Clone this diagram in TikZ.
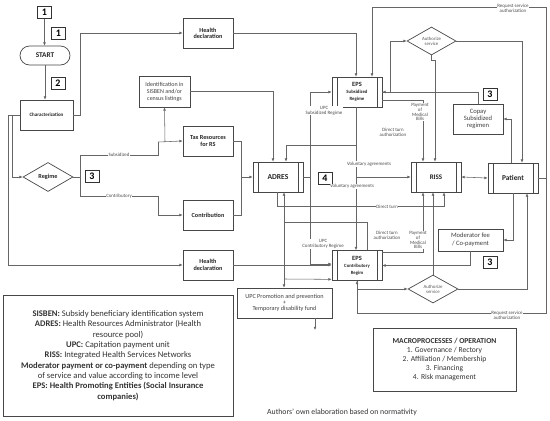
\documentclass[tikz,border=0pt]{standalone}
\usepackage{fontspec}
\setmainfont{Carlito}
\usetikzlibrary{arrows.meta,shapes.geometric,calc}
\newcommand{\fsz}[1]{\fontsize{#1pt}{#1pt}\selectfont}
\begin{document}
\begin{tikzpicture}[x=1pt,y=-1pt,
  lc/.style={draw=black!60, line width=0.55pt},
  ar/.style={lc, -{Latex[length=3.2pt,width=2.8pt]}},
  arb/.style={lc, {Latex[length=3.2pt,width=2.8pt]}-{Latex[length=3.2pt,width=2.8pt]}},
  bx/.style={draw=black!72, line width=0.7pt, fill=white, inner sep=0pt, align=center, text=black!85},
  procbox/.style={bx, path picture={\draw[black!72, line width=0.7pt]
      ([xshift=5pt]path picture bounding box.north west) -- ([xshift=5pt]path picture bounding box.south west)
      ([xshift=-5pt]path picture bounding box.north east) -- ([xshift=-5pt]path picture bounding box.south east);}},
  dia/.style={bx, diamond, minimum width=50pt, minimum height=29pt},
  numbox/.style={draw=black!80, line width=0.8pt, fill=white, minimum width=14pt, minimum height=12pt, inner sep=0pt, font=\bfseries\fsz{10}},
  lbl/.style={font=\fsz{4.9}, text=black!70, inner sep=0.5pt, fill=white, align=center},
  lbln/.style={font=\fsz{4.9}, text=black!70, inner sep=0.5pt, align=center}
]
\useasboundingbox (0,0) rectangle (550,421);
\fill[white] (0,0) rectangle (550,421);

% ---------- nodes ----------
\node[numbox] (n1a) at (44.5,12.5) {1};
\node[numbox] (n1b) at (58.5,33) {1};
\node[bx, rounded corners=9.5pt, minimum width=50pt, minimum height=19pt, font=\bfseries\fsz{7.3}] (start) at (45,55.5) {START};
\node[numbox] (n2) at (58,83) {2};
\node[bx, minimum width=53pt, minimum height=30pt, font=\bfseries\fsz{5}] (char) at (46.5,115) {Characterization};
\node[dia, font=\bfseries\fsz{6.2}] (regime) at (48,177) {Regime};
\node[numbox] (n3a) at (92,176) {3};

\node[bx, minimum width=50pt, minimum height=30pt, font=\bfseries\fsz{6.2}] (hd1) at (208,33) {Health\\declaration};
\node[bx, minimum width=51pt, minimum height=31pt, font=\fsz{6}, text=black!75] (ident) at (164.5,91.5) {Identification in\\[1pt]SISBEN and/or\\[1pt]census listings};
\node[bx, minimum width=50pt, minimum height=30pt, font=\bfseries\fsz{6.2}] (tax) at (208,141) {Tax Resources\\[1pt]for RS};
\node[bx, minimum width=50pt, minimum height=30pt, font=\bfseries\fsz{6.2}] (contrib) at (208,215) {Contribution};
\node[bx, minimum width=50pt, minimum height=30pt, font=\bfseries\fsz{6.2}] (hd2) at (208,265) {Health\\[1pt]declaration};

\node[procbox, minimum width=50pt, minimum height=30pt, font=\bfseries\fsz{7.6}] (adres) at (278,177) {ADRES};
\node[numbox] (n4) at (325,178) {4};
\node[procbox, minimum width=50pt, minimum height=30pt, font=\bfseries\fsz{6.4}] (epss) at (357,92) {EPS\\[1pt]{\fsz{4.8}Subsidized}\\[0.5pt]{\fsz{4.8}Regime}};
\node[procbox, minimum width=50pt, minimum height=30pt, font=\bfseries\fsz{6.4}] (epsc) at (357,265.5) {EPS\\[1pt]{\fsz{4.8}Contributory}\\[0.5pt]{\fsz{4.8}Regim}};
\node[procbox, minimum width=50pt, minimum height=30pt, font=\bfseries\fsz{7}] (riss) at (436,177) {RISS};
\node[procbox, minimum width=50pt, minimum height=30pt, font=\bfseries\fsz{7.4}] (patient) at (513,178) {Patient};

\node[dia, minimum width=49pt, minimum height=28pt, font=\fsz{4.8}, text=black!65] (auth1) at (431.5,41) {Authorize\\service};
\node[dia, minimum width=50pt, minimum height=28pt, font=\fsz{4.8}, text=black!65] (auth2) at (433,289) {Authorize\\service};
\node[bx, minimum width=50pt, minimum height=30pt, font=\fsz{6.6}, text=black!75] (copay) at (478,119) {Copay\\Subsidized\\regimen};
\node[numbox] (n3b) at (490,94) {3};
\node[bx, minimum width=65pt, minimum height=22pt, font=\fsz{6.6}, text=black!75] (modfee) at (470.5,240) {Moderator fee\\[1pt]/ Co-payment};
\node[numbox] (n3c) at (490,262) {3};

\node[bx, minimum width=95pt, minimum height=30pt, font=\fsz{6.2}, text=black!75] (upcp) at (284.5,303) {UPC Promotion and prevention\\+\\Temporary disability fund};
\coordinate (upend) at (315,330);

\node[bx, minimum width=230pt, minimum height=121pt, font=\fsz{8.6}, text=black!80, align=center] (legend) at (118,355.5)
 {\textbf{SISBEN:} Subsidy beneficiary identification system\\[1.7pt]
  \textbf{ADRES:} Health Resources Administrator (Health\\[1.7pt]
  resource pool)\\[1.7pt]
  \textbf{UPC:} Capitation payment unit\\[1.7pt]
  \textbf{RISS:} Integrated Health Services Networks\\[1.7pt]
  \textbf{Moderator payment or co-payment} depending on type\\[1.7pt]
  of service and value according to income level\\[1.7pt]
  \textbf{EPS: Health Promoting Entities (Social Insurance}\\[1.7pt]
  \textbf{companies)}};
\node[bx, minimum width=143pt, minimum height=63pt, font=\fsz{7.6}, text=black!80] (macro) at (444.5,359.5)
 {\textbf{MACROPROCESSES / OPERATION}\\[1.5pt]
  1. Governance / Rectory\\[1.5pt]
  2. Affiliation / Membership\\[1.5pt]
  3. Financing\\[1.5pt]
  4. Risk management};
\node[font=\fsz{7.8}, text=black!80, inner sep=0pt] (authors) at (342,412) {Authors' own elaboration based on normativity};

% ---------- connectors ----------
\begin{scope}[on background layer/.style={}]
\draw[ar] (n1a.south) -- (n1a.south |- start.north);
\draw[ar] (start.south) -- (start.south |- char.north);
\draw[ar] (char.east) -- ++(7,0) |- (hd1.west);
\draw[ar] (hd1.east) -| ([xshift=-1pt]epss.north);
% request service authorization (top)
\draw[ar] (patient.east) -- (546,178) -- (546,7) -| ([xshift=15pt]epss.north);
\node[lbl] (rq1) at (513,8) {Request service\\authorization};
% EPS subsidized -> authorize
\draw[ar] (epss.east) -- ++(8,0) |- (auth1.west);
\draw[ar] (copay.north) |- (epss.east);
\draw[ar] (auth1.south) -- ++(0,5) -| ([xshift=-1pt]riss.north);
\draw[ar] ([yshift=-8pt]epss.east) -| ([xshift=-13pt]riss.north);
\node[lbl] (pay1) at (420,112) {Payment\\of\\Medical\\Bills};
\node[lbln] (dta1) at (393,132) {Direct turn\\authorization};
% EPS subsidized bottom
\coordinate (j1) at (356,145);
\draw[ar] ([xshift=-1pt]epss.south) -- (j1) -| ([xshift=8pt]adres.north);
\draw[ar] ([xshift=-1pt]epss.south) |- (riss.west);
\draw[ar] ([xshift=-1pt]epss.south) -- ([xshift=-1pt]epsc.north);
\node[lbl] (va1) at (369,164) {Voluntary agreements};
\node[lbl] (va2) at (352,186.5) {Voluntary agreements};
% identification
\draw[ar] (ident.east) -| ([xshift=-5pt]adres.north);
% characterization branches
\draw[ar] (char.west) -- (12,115) |- (regime.west);
\draw[ar] (12,115) -- (8,115) |- (hd2.west);
% regime branches
\draw[lc] (regime.east) -- (80,177) -- (80,155) -- node[lbl]{Subsidized} (158,155) -- (158,142);
\draw[ar] (158,142) -- (tax.west);
\draw[ar] (165,142) -- (ident.south);
\draw[ar] (80,177) -- (80,196) -- node[lbl]{Contributory} (158,196) |- (contrib.west);
% tax / contribution -> ADRES
\draw[lc] (tax.east) -- (241,141) -- (241,215) -- (contrib.east);
\draw[ar] (241,177) -- (adres.west);
% health declaration 2
\draw[ar] (hd2.east) -- ([yshift=0.5pt]epsc.west);
% ADRES -> EPS
\draw[lc] (adres.east) -- (310,177);
\draw[ar] (310,177) |- (epss.west);
\draw[ar] (310,177) |- ([yshift=1.5pt]epsc.west);
\node[lbl] (upc1) at (324,110.5) {UPC\\Subsidized Regime};
\node[lbl] (upc2) at (323,244) {UPC\\Contributory Regime};
% ADRES bottom
\draw[ar] ([xshift=-1pt]adres.south) -- ++(0,14) -- node[lbl,pos=0.66]{Direct turn} ++(167,0) -- ([xshift=8pt]riss.south);
\draw[arb] ([xshift=6pt]adres.south) -- ([xshift=6pt]adres.south |- upcp.north);
\draw[lc] ([xshift=10pt]epsc.north) |- ([xshift=6pt,yshift=-30pt]adres.south);
\draw[ar] ([xshift=6pt]adres.south |- 0,279) -- ([yshift=1.5pt]epsc.south west);
% EPS contributory right side
\draw[ar] ([yshift=13pt]epsc.east) -| ([xshift=-13pt]riss.south);
\node[lbl] (pay2) at (418,240) {Payment\\of\\Medical\\Bills};
\node[lbln] (dta2) at (387,235) {Direct turn\\authorization};
\draw[ar] (modfee.south) |- (epsc.east);
\draw[ar] (auth2.north) -- (auth2.north |- riss.south);
\draw[ar] (epsc.south) |- (auth2.west);
% request service authorization (bottom)
\draw[ar] (546,178) -- (546,313) -| (epsc.south);
\node[lbl] (rq2) at (507,315) {Request service\\authorization};
% authorize -> patient
\draw[ar] (auth2.east) -| ([xshift=14pt]patient.south);
\draw[ar] (auth1.east) -| ([xshift=9pt]patient.north);
\draw[ar] ([xshift=-2pt]patient.north) |- (copay.east);
\draw[ar] (patient.south) |- (modfee.east);
\draw[arb] (riss.east) -- (patient.west);
% UPC promotion outgoing
\draw[ar] ([xshift=30.5pt]upcp.south) -- (upend);
\end{scope}
% redraw number box over lines
\node[numbox] at (n1b) {1};
\end{tikzpicture}
\end{document}
